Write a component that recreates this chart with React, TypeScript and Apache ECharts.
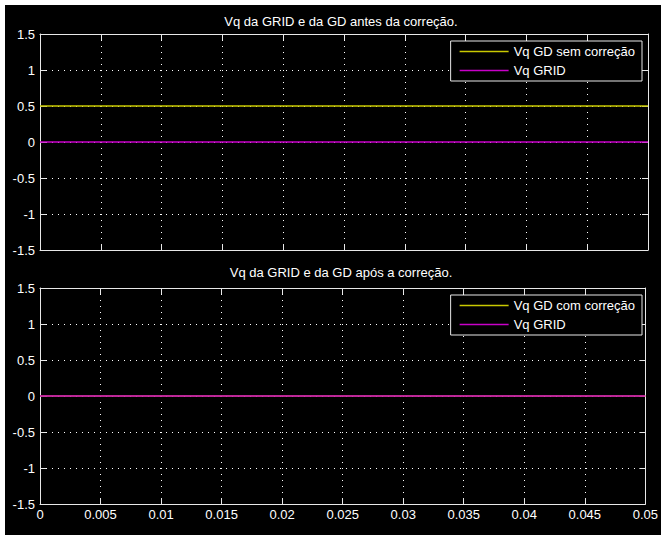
import React, { useEffect, useRef } from "react";
import * as echarts from "echarts";

const time = [0, 0.05];
const vqGdSemCorrecao = [0.5, 0.5];
const vqGridAntes = [0, 0];
const vqGdComCorrecao = [0, 0];
const vqGridApos = [0, 0];

const titleTop = "Vq da GRID e da GD antes da correção.";
const titleBottom = "Vq da GRID e da GD após a correção.";
const nameSem = "Vq GD sem correção";
const nameCom = "Vq GD com correção";
const nameGrid = "Vq GRID";

const FONT = "'Liberation Sans', Arial, sans-serif";
const FRAME = "#e8e8e8";
const YELLOW = "#c8c800";
const MAGENTA = "#c800c8";

const pairs = (xs: number[], ys: number[]) => xs.map((x, i) => [x, ys[i]]);

export default function App() {
  const ref = useRef<HTMLDivElement>(null);
  useEffect(() => {
    if (!ref.current) return;
    document.body.style.margin = "0";
    document.body.style.overflow = "hidden";
    document.body.style.background = "#fff";
    const chart = echarts.init(ref.current, null, { renderer: "svg" });
    const grids = [
      { left: 35, top: 29, right: 13, height: 216, show: false },
      { left: 35, top: 283, right: 13, height: 216, show: false },
    ];
    const mkX = (gi: number, primary: boolean, labels: boolean) => ({
      type: "value",
      gridIndex: gi,
      position: primary ? "bottom" : "top",
      min: 0,
      max: 0.05,
      interval: 0.005,
      axisLine: { show: true, onZero: false, lineStyle: { color: FRAME, width: 1 } },
      axisTick: { show: true, inside: true, length: 6, lineStyle: { color: FRAME } },
      axisLabel: {
        show: primary && labels,
        color: "#fff",
        fontSize: 13,
        fontFamily: FONT,
        margin: 4,
        formatter: (v: number) => String(parseFloat(v.toFixed(3))),
      },
      splitLine: {
        show: primary,
        lineStyle: { color: "#ffffff", type: [1, 5], width: 1 },
      },
    });
    const mkY = (gi: number, primary: boolean) => ({
      type: "value",
      gridIndex: gi,
      position: primary ? "left" : "right",
      min: -1.5,
      max: 1.5,
      interval: 0.5,
      axisLine: { show: true, onZero: false, lineStyle: { color: FRAME, width: 1 } },
      axisTick: { show: true, inside: true, length: 6, lineStyle: { color: FRAME } },
      axisLabel: {
        show: primary,
        color: "#fff",
        fontSize: 13,
        fontFamily: FONT,
        margin: 5,
        formatter: (v: number) => String(parseFloat(v.toFixed(2))),
      },
      splitLine: {
        show: primary,
        lineStyle: { color: "#ffffff", type: [1, 5], width: 1 },
      },
    });
    const legendBase = {
      orient: "vertical",
      right: 19,
      itemWidth: 49,
      itemHeight: 14,
      itemGap: 6,
      icon: "path://M0,0H49V1.5H0Z",
      padding: [4, 7, 4, 9],
      backgroundColor: "#000",
      borderColor: FRAME,
      borderWidth: 1,
      borderRadius: 0,
      selectedMode: false,
      textStyle: { color: "#fff", fontSize: 13, fontFamily: FONT },
      z: 10,
    };
    chart.setOption({
      animation: false,
      backgroundColor: "#000",
      title: [
        {
          text: titleTop,
          left: 336,
          top: 10,
          textAlign: "center",
          padding: 0,
          textStyle: { color: "#fff", fontSize: 13, fontWeight: "normal", fontFamily: FONT },
        },
        {
          text: titleBottom,
          left: 336,
          top: 261,
          textAlign: "center",
          padding: 0,
          textStyle: { color: "#fff", fontSize: 13, fontWeight: "normal", fontFamily: FONT },
        },
      ],
      legend: [
        { ...legendBase, top: 36, data: [nameSem, nameGrid] },
        { ...legendBase, top: 290, data: [nameCom, nameGrid] },
      ],
      grid: grids,
      xAxis: [mkX(0, true, false), mkX(0, false, false), mkX(1, true, true), mkX(1, false, false)],
      yAxis: [mkY(0, true), mkY(0, false), mkY(1, true), mkY(1, false)],
      series: [
        {
          name: nameSem,
          type: "line",
          xAxisIndex: 0,
          yAxisIndex: 0,
          symbol: "none",
          color: YELLOW,
          lineStyle: { color: YELLOW, width: 1.5 },
          data: pairs(time, vqGdSemCorrecao),
        },
        {
          name: nameGrid,
          type: "line",
          xAxisIndex: 0,
          yAxisIndex: 0,
          symbol: "none",
          color: MAGENTA,
          lineStyle: { color: MAGENTA, width: 1.5 },
          data: pairs(time, vqGridAntes),
        },
        {
          name: nameCom,
          type: "line",
          xAxisIndex: 2,
          yAxisIndex: 2,
          symbol: "none",
          color: YELLOW,
          lineStyle: { color: YELLOW, width: 1.5 },
          data: pairs(time, vqGdComCorrecao),
        },
        {
          name: nameGrid,
          type: "line",
          xAxisIndex: 2,
          yAxisIndex: 2,
          symbol: "none",
          color: MAGENTA,
          lineStyle: { color: MAGENTA, width: 1.5 },
          data: pairs(time, vqGridApos),
        },
      ],
    });
    const onResize = () => chart.resize();
    window.addEventListener("resize", onResize);
    return () => {
      window.removeEventListener("resize", onResize);
      chart.dispose();
    };
  }, []);
  return (
    <div
      ref={ref}
      style={{ position: "fixed", left: 5, top: 5, right: 0, bottom: 0 }}
    />
  );
}
